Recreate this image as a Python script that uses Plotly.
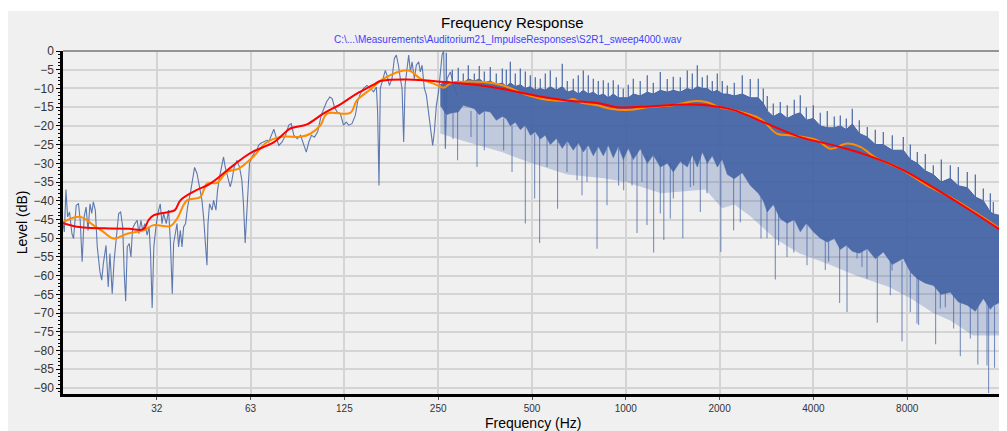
import plotly.graph_objects as go

# ---------------- data ----------------
# raw response, low-frequency part (individual line)
raw_f = [15.625, 15.78, 15.97, 16.16, 16.4, 16.69, 16.89, 17.23, 17.52, 17.74, 18.0, 18.27, 18.53, 18.8,
         19.08, 19.32, 19.55, 19.84, 20.13, 20.53, 20.8, 21.05, 21.47, 21.83, 22.1, 22.48, 22.8, 23.23,
         23.58, 23.92, 24.29, 24.57, 24.83, 25.12, 25.49, 25.81, 26.13, 26.59, 27.04, 27.38, 27.79, 28.14,
         28.61, 29.1, 29.53, 29.84, 30.2, 30.57, 31.14, 31.67, 32.06, 32.47, 32.86, 33.52, 34.1, 34.53,
         35.04, 35.38, 35.83, 36.28, 36.71, 37.18, 37.65, 38.1, 38.66, 39.22, 40.02, 40.61, 41.31, 42.06,
         42.85, 43.63, 44.15, 44.71, 45.27, 45.61, 46.15, 46.99, 47.55, 48.38, 48.95, 49.7, 50.57, 51.17,
         51.81, 52.46, 53.08, 53.77, 54.45, 55.36, 56.48, 57.58, 58.59, 59.29, 60.04, 60.5, 61.1, 62.0,
         63.15, 64.4, 65.5, 66.3, 67.2, 68.9, 70.6, 71.45, 73.3, 74.2, 75.7, 77.0, 78.9, 80.9, 82.9, 84.4,
         86.0, 88.2, 90.4, 92.6, 94.3, 96.1, 98.0, 100.2, 102.6, 105.3, 107.3, 109.5, 112.2, 114.2, 116.2,
         118.5, 121.3, 124.2, 126.7, 129.0, 132.2, 135.5, 137.8, 140.6, 144.0, 147.7, 151.3, 155.1, 158.3,
         159.8, 161.4, 163.0, 166.3, 169.1, 171.3, 174.3, 177.7, 180.8, 183.5, 186.3, 189.0, 191.4, 193.7,
         195.7, 198.6, 201.0, 203.6, 206.1, 209.6, 212.7, 216.4, 219.1, 221.9, 225.7, 229.1, 233.1, 237.2,
         240.0, 243.0, 246.6, 250.7, 253.9, 257.2, 260.3, 263.6, 266.9, 273.5, 280.2, 287.2]
raw_db = [-46, -48.3, -37, -44.3, -43, -48.8, -50.1, -41.2, -40.8, -45.2, -56.3, -44.3, -41.7, -47.9,
          -40.8, -43.4, -40.3, -42.5, -52.3, -59, -61.2, -56.8, -51.9, -63, -54.1, -64.8, -55.9, -49.7,
          -43.4, -43, -47, -59.4, -66.8, -52.3, -51.4, -55, -47.4, -46.1, -45.2, -48.8, -45.2, -47.9,
          -46.1, -49.2, -47, -54.1, -68.6, -52.3, -46.1, -42.5, -40.8, -46.1, -43.4, -46.1, -42.5, -50.5,
          -64.8, -51.4, -48.8, -46.1, -52.3, -47.9, -52.3, -47, -46.1, -41.7, -38.1, -34.5, -31.1, -32.7,
          -36.3, -39.9, -44.3, -51.4, -57.2, -46.1, -40.8, -42.5, -39.9, -42.5, -37.2, -33.6, -30.1, -28.3,
          -31, -32.7, -34.5, -36.3, -34.5, -31, -29.2, -31, -34.5, -40.8, -51.3, -46.1, -39, -30,
          -28.3, -27, -26.5, -25.2, -24.7, -24.3, -23.8, -24.3, -21.6, -20.9, -23.4, -25.2, -24.3, -22.5, -19.8, -19.4,
          -22.5, -23.4, -22.5, -25.2, -27, -24.3, -22.5, -23, -21.6, -17.2, -15.4, -13.6, -12.3, -12.7, -15,
          -16.3, -16.7, -19.8, -19, -19.8, -19.4, -17.2, -13.6, -11.4, -10, -9.2, -10, -10.9, -9.6,
          -16.3, -35.9, -10, -7.4, -5.2, -6.5, -9.2, -7.4, -2.0, -1.1, -3.8, -7.4, -10, -24.3,
          -9.2, -4.7, -1.1, -5.6, -2.9, -7.4, -3.8, -2.9, -5.6, -3.8, -10, -11.8, -17.2, -21.6,
          -25.2, -21.6, -14.5, -10.9, -5.6, -1.1, 0, -26.1, -7.4, -5.6, -9.2, -11.8]

# raw response, dense high-frequency part: solid band (top and bottom of the dense area)
band_f = [253.9, 265.4, 277.5, 290.0, 300.9, 312.3, 326.5, 338.8, 351.6, 367.4, 384.1, 401.6, 413.6, 426.0,
          442.0, 458.7, 476.0, 493.9, 512.4, 531.6, 551.7, 572.4, 598.3, 625.4, 649.0, 678.5, 704.0, 730.6,
          758.0, 786.6, 816.2, 847.0, 878.7, 911.8, 946.0, 981.6, 1018.7, 1057, 1112.6, 1172, 1225.5, 1290.6,
          1358.8, 1420.5, 1496, 1575.3, 1634.9, 1696.5, 1760.3, 1826.5, 1895.2, 1966.5, 2040.4, 2117.2,
          2229.4, 2365.4, 2509, 2662, 2762.6, 2845, 2974, 3132, 3298, 3473, 3631, 3796, 3997, 4209, 4433,
          4668, 4880, 5101.6, 5332, 5615.6, 5957, 6320, 6705.6, 7167, 7773.6, 8186.4, 8620.8, 9146, 9704,
          10294, 11002, 11672, 12475, 13236, 14042, 14787, 15118, 16000]
band_top = [-9, -8, -8.5, -8, -8.5, -7.5, -8, -7.5, -8.5, -8, -9, -8.5, -9.5, -8.5,
            -9.5, -9, -10, -9.5, -10.5, -10, -10.5, -9.5, -10.5, -9.5, -11, -10.5, -11.5, -10.5,
            -11.5, -11, -12, -11.5, -12.5, -11.5, -12.5, -12.5, -12.5, -11.5, -12, -11, -11.5, -10.5,
            -11, -10.5, -11, -10, -10.5, -9.5, -10, -10, -11, -10.5, -11.5, -11.5,
            -12, -11.5, -12.5, -12.5, -14, -16, -17.5, -16.5, -18, -17, -16.5, -18.5, -18, -20, -20.5,
            -20.5, -20, -21, -19.5, -22, -23, -25, -25, -26.5, -26.5, -29, -30, -32, -33,
            -35, -34, -36, -36.5, -39, -40, -43, -43.5, -44]
band_low = [-14.5, -17, -16.5, -16.3, -14.5, -15, -15.4, -17, -16, -16.3, -18.5, -17.5, -18.1, -20,
            -19, -21, -19.8, -22.5, -21.6, -23.5, -22.5, -25, -23.4, -26, -24, -26.5, -24.5, -27,
            -25.2, -28, -25.5, -28, -25.2, -28.5, -25.5, -29, -26, -29, -26.1, -30, -27.8, -31,
            -30, -32.3, -29.5, -31, -27.8, -31, -27, -30, -28, -31, -29, -33,
            -34.1, -32.5, -35.9, -38, -40, -43, -41, -44.8, -46, -45, -48.3, -46, -48.3, -50, -51,
            -50.1, -53, -51.9, -53.5, -54, -52.8, -55.5, -53.7, -57, -55.4, -59, -60.8, -62, -62.6,
            -65, -64.4, -67, -67.9, -69.5, -66.1, -69, -68, -67]

# faint (semi-transparent) lower fringe of the band
fringe_f = [253.9, 300, 400, 500, 650, 850, 1000, 1300, 1800, 2040, 2230, 2500, 3000, 3600, 4500,
            5500, 7000, 8200, 9700, 11000, 13000, 16000]
fringe_db = [-22, -24, -27, -30, -33, -34, -35, -38, -37, -42, -41, -44, -50, -54, -57,
             -60, -63, -66, -70, -72, -76, -76]

# narrow peaks above the band (frequency, base, peak)
peak_f = [265.4, 277.5, 290.0, 300.9, 312.3, 326.5, 338.8, 351.6, 367.4, 384.1, 401.6, 413.6, 426.0, 442.0,
          458.7, 476.0, 493.9, 512.4, 531.6, 551.7, 572.4, 598.3, 625.4, 649.0, 678.5, 704.0, 730.6, 758.0,
          786.6, 816.2, 847.0, 878.7, 911.8, 946.0, 981.6, 1018.7, 1057, 1112.6, 1172, 1225.5, 1290.6, 1358.8,
          1420.5, 1496, 1575.3, 1634.9, 1696.5, 1760.3, 1826.5, 1895.2, 1966.5, 2040.4, 2117.2, 2229.4,
          2365.4, 2509, 2662, 2762.6, 2845, 2974, 3132, 3298, 3473, 3631, 3796, 3997, 4209, 4433, 4668,
          4880, 5101.6, 5332, 5615.6, 5957, 6320, 6705.6, 7167, 7773.6, 8186.4, 8620.8, 9146, 9704, 10294,
          11002, 11672, 12475, 13236, 14042, 14787, 15118, 16000]
peak_base = [-8, -8.5, -8, -8.5, -7.5, -8, -7.5, -8.5, -8, -9, -8.5, -9.5, -8.5, -9.5,
             -9, -10, -9.5, -10.5, -10, -10.5, -9.5, -10.5, -9.5, -11, -10.5, -11.5, -10.5, -11.5,
             -11, -12, -11.5, -12.5, -11.5, -12.5, -12.5, -12.5, -11.5, -12, -11, -11.5, -10.5, -11,
             -10.5, -11, -10, -10.5, -9.5, -10, -10, -11, -10.5, -11.5, -11.5, -12,
             -11.5, -12.5, -12.5, -14, -16, -17.5, -16.5, -18, -17, -16.5, -18.5, -18, -20, -20.5, -20.5,
             -20, -21, -19.5, -22, -23, -25, -25, -26.5, -26.5, -29, -30, -32, -33, -35,
             -34, -36, -36.5, -39, -40, -43, -43.5, -44]
peak_db = [-0.5, -5, -4.5, -6, -3.8, -6, -4, -5.5, -4.3, -6, -4.7, -5, -2.9, -6,
           -4.7, -5.5, -6.5, -7, -7.4, -6, -5.2, -7, -3.4, -8, -7.4, -6.5, -5.2, -6.5,
           -7.4, -8, -7.8, -8.5, -7.8, -9, -10, -9, -7.4, -8, -6.5, -8.5, -5.6, -7.5,
           -6.9, -7, -5.2, -6, -3.8, -7, -6.5, -8, -6.0, -8, -9.2, -8.5,
           -6.5, -7.5, -7.4, -10, -12, -14, -13.6, -14.5, -13, -11.8, -15, -14.5, -16.5, -16, -17.5,
           -17.2, -18, -15.4, -18.5, -20.3, -21, -21.6, -22.5, -23, -25, -27, -27.5, -30.5, -29,
           -30.5, -31, -32.3, -33, -36.7, -38, -40.3, -39]

# deep notches below the band (frequency, start, bottom)
notch_f = [278.9, 288.5, 318.6, 333, 351.6, 405.5, 431.4, 476, 509.8, 528.9, 558.8, 604, 647.6, 697.4,
           723.5, 750.8, 808.5, 870.3, 948, 984, 1047, 1086.4, 1126.7, 1169.4, 1228.3, 1290.6, 1324.3,
           1389.5, 1421, 1523.8, 1611, 1650.6, 1734.6, 1822.5, 2017.8, 2218, 2330.8, 2716, 2838.6, 3018.6,
           3093, 3291, 3460.6, 3815.4, 4368, 4476, 4854.4, 5128, 5520.8, 5728, 5944, 6414.4, 7062, 7151,
           7699.6, 8186, 8600.8, 8704, 9869.6, 10218, 10601, 11273, 11846, 12755, 13481.6, 14428, 14600,
           15251]
notch_top = [-16, -16, -16, -16, -16, -18, -20, -20, -22, -23, -22, -24, -24, -24,
             -26, -26, -26, -26, -26, -26, -27, -27, -27, -28, -28, -28, -29,
             -30, -31, -29, -28, -28, -28, -28, -30, -33, -33, -39, -42, -42,
             -43, -45, -45, -46, -50, -50, -52, -52, -53, -53, -53, -55, -56, -56,
             -56, -59, -60, -60, -63, -64, -64, -65, -66, -67, -68, -67, -67,
             -68]
notch_db = [-23.5, -29.2, -23, -31, -26.5, -26.5, -32.3, -46.1, -39.4, -51.3, -31, -42.1, -32.3, -34.5,
            -38.5, -35, -52.8, -41.2, -35.9, -37.2, -35.9, -48.6, -35, -46.5, -53.8, -43.4, -50.5,
            -44.8, -39.4, -50, -36.3, -35.9, -43, -38, -53.7, -47.9, -45.7, -50.1, -50, -61,
            -51.9, -55, -53.8, -57.2, -58.5, -56.3, -67.3, -69.7, -55.4, -57.7, -60.8, -72.6, -65.2, -58.6,
            -77.5, -69.7, -72.8, -73.2, -78.3, -68.8, -68.4, -74.1, -81.5, -76.8, -83.7, -84, -91.3,
            -84.6]

# 1/3-octave smoothed (red)
red_f = [15.625, 17.0, 18.7, 22.1, 25.5, 28.3, 29.4, 30.5, 34.1, 35.7, 37.2, 40.9, 46.4, 52.5, 59.2,
         63.8, 74.1, 78.9, 83.8, 94.8, 107, 121, 137, 155, 163, 175, 198, 224, 254, 294, 329, 396, 505,
         647, 828, 937, 1198, 1533, 1822, 2218, 2838, 3630, 4647, 5940, 7602, 9720, 12450, 16000]
red_db = [-45.9, -46.8, -47.2, -47.4, -47.5, -47.6, -45.2, -43.9, -43, -42.5, -39.9, -37.6, -35.4, -31.9, -28.5,
          -26.8, -24.4, -22.5, -20.7, -19.6, -16.7, -14.3, -11.4, -9.0, -8.0, -7.7, -7.6, -7.8, -8.2, -8.6, -9.0, -10.0, -11.8,
          -13.2, -14.0, -15.0, -14.8, -14.3, -14.5, -15.8, -19.4, -23, -25.2, -27.8, -31.4, -36.5, -42, -47.9]

# 1/6-octave smoothed (orange)
orange_f = [15.625, 17.74, 19.55, 21.05, 22.71, 25.06, 28.3, 30.5, 34.5, 36.28, 39.06, 43.1, 45.27, 48.77,
            52.46, 57.3, 63.6, 70.6, 78.8, 90.4, 97.2, 104.8, 109.9, 130.6, 137, 151.3, 167, 200.9, 219.1,
            241.7, 260.3, 273.5, 349.6, 404.8, 469.8, 558.8, 647.6, 678, 714.7, 808.5, 892, 1034, 1169,
            1421, 1650, 1822, 2018, 2218, 2702, 3057, 3373, 4107, 4532, 5128, 5657, 6400, 7602, 9260,
            10996, 13400, 16000]
orange_db = [-45.7, -44.3, -46.5, -48.3, -50.1, -48.8, -47.9, -46.5, -46.8, -44.8, -39.9, -39.0, -35.4, -35.2,
             -32.3, -31.4, -28.3, -24.3, -22.9, -22.9, -22.1, -19.8, -16.7, -16.5, -13.2, -10.3, -7.4, -5.2, -7.4,
             -8.7, -9.8, -8.7, -8.3, -9.2, -11.4, -13, -13.2, -12.8, -13.7, -14.5, -15.4, -15.7, -15,
             -14.5, -13.4, -13.7, -15.1, -15.8, -18.1, -22.1, -22.5, -23.8, -26.1, -24.7, -25.6, -28.7, -31.4, -35.9,
             -39.0, -43.4, -47.6]

x_tickvals = [31.25, 62.5, 125, 250, 500, 1000, 2000, 4000, 8000]
x_ticktext = ["32", "63", "125", "250", "500", "1000", "2000", "4000", "8000"]
y_tickvals = list(range(0, -95, -5))

# ---------------- figure ----------------
BLUE = "rgb(68,100,165)"
fig = go.Figure()

fig.add_trace(go.Scatter(x=fringe_f, y=fringe_db, mode="lines", line=dict(width=0, color=BLUE),
                         hoverinfo="skip", showlegend=False))
fig.add_trace(go.Scatter(x=band_f, y=band_low, mode="lines", line=dict(width=0.8, color="rgba(68,100,165,0.6)"),
                         fill="tonexty", fillcolor="rgba(68,100,165,0.27)", showlegend=False))
fig.add_trace(go.Scatter(x=band_f, y=band_top, mode="lines", line=dict(width=1, color=BLUE),
                         fill="tonexty", fillcolor="rgba(68,100,165,0.95)", showlegend=False))


def segments(fs, a, b):
    xs, ys = [], []
    for f, y0, y1 in zip(fs, a, b):
        xs += [f, f, None]
        ys += [y0, y1, None]
    return xs, ys


px_, py_ = segments(peak_f, peak_base, peak_db)
fig.add_trace(go.Scatter(x=px_, y=py_, mode="lines", line=dict(width=1.3, color="rgba(68,100,165,0.9)"),
                         showlegend=False))
nx_, ny_ = segments(notch_f, notch_top, notch_db)
fig.add_trace(go.Scatter(x=nx_, y=ny_, mode="lines", line=dict(width=1.1, color="rgba(68,100,165,0.7)"),
                         showlegend=False))

fig.add_trace(go.Scatter(x=raw_f, y=raw_db, mode="lines", line=dict(width=1.1, color="rgba(68,100,165,0.85)"),
                         showlegend=False))
fig.add_trace(go.Scatter(x=orange_f, y=orange_db, mode="lines", line=dict(width=2, color="#ff8c00"),
                         line_shape="spline", showlegend=False))
fig.add_trace(go.Scatter(x=red_f, y=red_db, mode="lines", line=dict(width=2, color="#ff0000"),
                         line_shape="spline", showlegend=False))

FONT = "Arial, Liberation Sans, sans-serif"
# the page body adds an 8 px white margin, so the figure is 8 px smaller than the window
fig.update_layout(
    width=999, height=423,
    margin=dict(l=55, r=6, t=43, b=37, autoexpand=False),
    paper_bgcolor="#f0f0f0", plot_bgcolor="#f0f0f0",
    font=dict(family=FONT, color="#222"),
    xaxis=dict(type="log", range=[1.19382, 4.20412], tickvals=x_tickvals, ticktext=x_ticktext,
               tickfont=dict(size=10, color="#333"), showgrid=True, gridcolor="#d4d4d4", gridwidth=1.5,
               showline=True, linecolor="black", linewidth=2.5, ticks="outside", ticklen=3,
               tickcolor="#555", zeroline=False, automargin=False),
    yaxis=dict(range=[-91.6, 0], tickvals=y_tickvals, tickfont=dict(size=12, color="#333"),
               showgrid=True, gridcolor="#d4d4d4", gridwidth=1.5, showline=True, linecolor="black",
               linewidth=2.5, ticks="outside", ticklen=4, tickcolor="black", zeroline=False, automargin=False,
               minor=dict(dtick=1, ticks="outside", ticklen=2, tickcolor="black", showgrid=False)),
    shapes=[
        dict(type="line", xref="paper", yref="paper", x0=0, x1=1, y0=1, y1=1, line=dict(color="#777", width=1.5)),
        dict(type="line", xref="paper", yref="paper", x0=1, x1=1, y0=0, y1=1, line=dict(color="#777", width=1.5)),
        dict(type="rect", xref="paper", yref="paper", x0=-0.08, x1=1.02, y0=1.1166, y1=1.14,
             fillcolor="white", line=dict(width=0), layer="below"),
    ],
    annotations=[
        dict(text="Frequency Response", xref="paper", yref="paper", x=0.4791, y=1.0845, showarrow=False,
             xanchor="center", yanchor="middle", font=dict(size=15, color="black", family=FONT)),
        dict(text="C:\\...\\Measurements\\Auditorium21_ImpulseResponses\\S2R1_sweep4000.wav", xref="paper",
             yref="paper", x=0.4742, y=1.0321, showarrow=False, xanchor="center", yanchor="middle",
             font=dict(size=10, color="#3f3fff", family=FONT)),
        dict(text="Level (dB)", xref="paper", yref="paper", x=-0.0434, y=0.5015, showarrow=False,
             textangle=-90, xanchor="center", yanchor="middle", font=dict(size=14, color="black", family=FONT)),
        dict(text="Frequency (Hz)", xref="paper", yref="paper", x=0.5014, y=-0.0845, showarrow=False,
             xanchor="center", yanchor="middle", font=dict(size=14, color="black", family=FONT)),
    ],
)

fig.write_html("out.html")
